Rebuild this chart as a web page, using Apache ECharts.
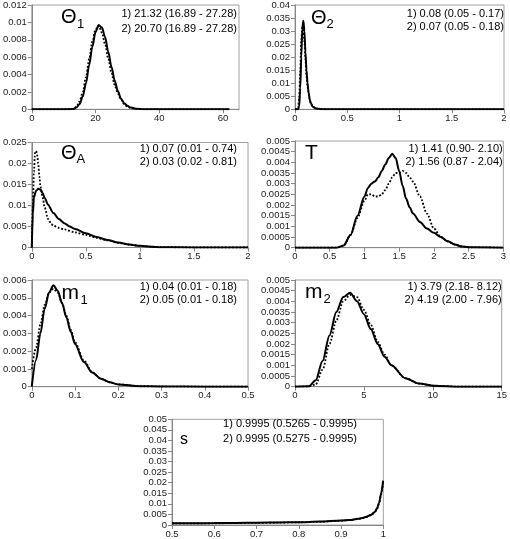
<!DOCTYPE html>
<html><head><meta charset="utf-8">
<script src="https://cdn.jsdelivr.net/npm/echarts@6/dist/echarts.min.js"></script>
<style>html,body{margin:0;padding:0;background:#fff}#c{width:510px;height:539px}</style>
</head><body><div id="c"></div>
<script>
// ---- Data ----
const theta1X  = [0, 10, 13, 14, 15, 16, 17, 18, 19, 20, 21, 22, 23, 24, 25, 26, 27, 28, 29, 30, 31, 33, 35, 40, 50, 62];
const theta1S1 = [0, 0, 0.00003, 0.0002, 0.0006, 0.0015, 0.003, 0.0051, 0.0072, 0.0089, 0.0097, 0.0094, 0.0083, 0.0066, 0.0049, 0.0033, 0.0021, 0.0012, 0.0007, 0.0004, 0.0002, 0.00005, 0, 0, 0, 0];
const theta1S2 = [0, 0, 0.00005, 0.0003, 0.0009, 0.002, 0.0037, 0.0058, 0.0078, 0.0092, 0.0096, 0.0088, 0.0075, 0.0058, 0.0042, 0.0028, 0.0018, 0.0011, 0.0006, 0.0003, 0.00015, 0.00004, 0, 0, 0, 0];

const theta2X  = [0, 0.02, 0.03, 0.04, 0.05, 0.06, 0.07, 0.08, 0.09, 0.10, 0.11, 0.12, 0.13, 0.14, 0.15, 0.17, 0.2, 0.25, 0.3, 0.5, 1, 2];
const theta2S1 = [0, 0, 0, 0.001, 0.008, 0.02, 0.031, 0.034, 0.03, 0.022, 0.015, 0.01, 0.0065, 0.004, 0.0025, 0.001, 0.0003, 0.00005, 0, 0, 0, 0];
const theta2S2 = [0, 0, 0.0005, 0.004, 0.014, 0.026, 0.032, 0.031, 0.026, 0.019, 0.013, 0.009, 0.006, 0.0038, 0.0024, 0.001, 0.0003, 0.00005, 0, 0, 0, 0];

const thetaAX1 = [0, 0.01, 0.02, 0.04, 0.06, 0.08, 0.1, 0.12, 0.15, 0.2, 0.25, 0.3, 0.35, 0.4, 0.5, 0.6, 0.7, 0.8, 0.9, 1.0, 1.1, 1.2, 1.5, 2];
const thetaAS1 = [0, 0.008, 0.012, 0.0135, 0.014, 0.0138, 0.013, 0.0118, 0.0102, 0.0082, 0.0068, 0.0058, 0.005, 0.0044, 0.0034, 0.0025, 0.0018, 0.0012, 0.0007, 0.0004, 0.0002, 0.00008, 0, 0];
const thetaAX2 = [0, 0.01, 0.02, 0.03, 0.04, 0.05, 0.06, 0.07, 0.08, 0.1, 0.12, 0.15, 0.18, 0.2, 0.25, 0.3, 0.4, 0.5, 0.6, 0.7, 0.8, 0.9, 1.0, 1.1, 1.2, 1.5, 2];
const thetaAS2 = [0, 0.01, 0.018, 0.0225, 0.023, 0.022, 0.02, 0.017, 0.0145, 0.012, 0.0095, 0.0068, 0.0056, 0.0052, 0.0047, 0.0043, 0.0036, 0.003, 0.0023, 0.0017, 0.0011, 0.0007, 0.0004, 0.0002, 0.0001, 0, 0];

const tX  = [0, 0.6, 0.7, 0.8, 0.9, 1.0, 1.05, 1.1, 1.15, 1.2, 1.25, 1.3, 1.35, 1.4, 1.45, 1.5, 1.55, 1.6, 1.65, 1.7, 1.8, 1.9, 2.0, 2.1, 2.2, 2.3, 2.4, 2.5, 3];
const tS1 = [0, 0, 0.0001, 0.0006, 0.0015, 0.0024, 0.0028, 0.003, 0.0031, 0.0033, 0.0036, 0.0039, 0.0042, 0.0044, 0.0042, 0.0036, 0.0029, 0.0023, 0.0019, 0.0016, 0.0012, 0.0009, 0.0007, 0.0005, 0.0003, 0.00015, 0.00006, 0.00002, 0];
const tS2 = [0, 0, 0.0001, 0.0006, 0.0014, 0.0022, 0.0025, 0.0025, 0.0024, 0.0024, 0.0025, 0.0027, 0.003, 0.0033, 0.0035, 0.0035, 0.0036, 0.0035, 0.0033, 0.0031, 0.0024, 0.0016, 0.0009, 0.0005, 0.0003, 0.00015, 0.00006, 0.00002, 0];

const m1X  = [0, 0.01, 0.02, 0.03, 0.04, 0.05, 0.06, 0.07, 0.08, 0.09, 0.1, 0.12, 0.14, 0.16, 0.18, 0.2, 0.25, 0.3, 0.4, 0.5];
const m1S1 = [0, 0.0015, 0.003, 0.0044, 0.0053, 0.0057, 0.0054, 0.0047, 0.0039, 0.0031, 0.0024, 0.0014, 0.0008, 0.00045, 0.00025, 0.00013, 0.00003, 0.00001, 0, 0];
const m1S2 = [0.001, 0.0022, 0.0035, 0.0046, 0.0053, 0.0055, 0.0053, 0.0047, 0.004, 0.0032, 0.0025, 0.0015, 0.0008, 0.00045, 0.00025, 0.00013, 0.00003, 0.00001, 0, 0];

const m2X  = [0, 1, 1.5, 2, 2.5, 3, 3.5, 4, 4.5, 5, 5.5, 6, 6.5, 7, 8, 9, 10, 12, 15];
const m2S1 = [0, 0.00002, 0.0003, 0.0012, 0.0024, 0.0035, 0.0042, 0.0044, 0.004, 0.0034, 0.0027, 0.002, 0.0014, 0.001, 0.0004, 0.00015, 0.00005, 0, 0];
const m2S2 = [0, 0.00001, 0.0001, 0.0008, 0.002, 0.0031, 0.004, 0.0043, 0.0042, 0.0036, 0.0029, 0.0021, 0.0015, 0.001, 0.0004, 0.00015, 0.00005, 0, 0];

const sX  = [0.5, 0.55, 0.6, 0.65, 0.7, 0.75, 0.8, 0.85, 0.9, 0.92, 0.94, 0.95, 0.96, 0.97, 0.98, 0.985, 0.99, 0.995, 0.9995];
const sS1 = [0.0008, 0.0008, 0.0009, 0.001, 0.0011, 0.0012, 0.0013, 0.0016, 0.0021, 0.0024, 0.0029, 0.0033, 0.0039, 0.0047, 0.0062, 0.0078, 0.0105, 0.015, 0.021];
const sS2 = [0.0007, 0.0008, 0.0008, 0.0009, 0.001, 0.0011, 0.0013, 0.0015, 0.002, 0.0023, 0.0028, 0.0032, 0.0038, 0.0046, 0.006, 0.0076, 0.0102, 0.0145, 0.02];

const xTicks = [[0, 65, 20], [0, 2, 0.5], [0, 2, 0.5], [0, 3, 0.5], [0, 0.5, 0.1], [0, 15, 5], [0.5, 1, 0.1]];
const yTicks = [[0, 0.012, 0.002], [0, 0.04, 0.005], [0, 0.025, 0.005], [0, 0.005, 0.0005], [0, 0.006, 0.001], [0, 0.005, 0.0005], [0, 0.05, 0.005]];

const labels = [
  ['1) 21.32 (16.89 - 27.28)', '2) 20.70 (16.89 - 27.28)'],
  ['1) 0.08 (0.05 - 0.17)', '2) 0.07 (0.05 - 0.18)'],
  ['1) 0.07 (0.01 - 0.74)', '2) 0.03 (0.02 - 0.81)'],
  ['1) 1.41 (0.90- 2.10)', '2) 1.56 (0.87 - 2.04)'],
  ['1) 0.04 (0.01 - 0.18)', '2) 0.05 (0.01 - 0.18)'],
  ['1) 3.79 (2.18- 8.12)', '2) 4.19 (2.00 - 7.96)'],
  ['1) 0.9995 (0.5265 - 0.9995)', '2) 0.9995 (0.5275 - 0.9995)']
];

// ---- Layout ----
const grids = [
  {left: 30, top: 5, width: 209, height: 104.3},
  {left: 295, top: 4, width: 209, height: 105.3},
  {left: 29.3, top: 142.5, width: 218.7, height: 105},
  {left: 295, top: 141, width: 208.3, height: 106.7},
  {left: 29.3, top: 280, width: 218.7, height: 106.7},
  {left: 295, top: 280, width: 208, height: 106.7},
  {left: 172, top: 419.3, width: 211.3, height: 106.7}
];
const FONT = '"Liberation Sans", Arial, sans-serif';

const zip = (xs, ys) => xs.map((x, i) => [x, ys[i]]);
const seriesData = [
  [zip(theta1X, theta1S1), zip(theta1X, theta1S2)],
  [zip(theta2X, theta2S1), zip(theta2X, theta2S2)],
  [zip(thetaAX1, thetaAS1), zip(thetaAX2, thetaAS2)],
  [zip(tX, tS1), zip(tX, tS2)],
  [zip(m1X, m1S1), zip(m1X, m1S2)],
  [zip(m2X, m2S1), zip(m2X, m2S2)],
  [zip(sX, sS1), zip(sX, sS2)]
];

const axisCommon = {
  axisLine: {show: true, onZero: false, lineStyle: {color: '#868686', width: 1}},
  axisTick: {show: true, inside: false, length: 4, lineStyle: {color: '#868686'}},
  splitLine: {show: false}
};

const xAxis = xTicks.map((t, i) => Object.assign({}, axisCommon, {
  type: 'value', gridIndex: i, min: t[0], max: t[1], interval: t[2],
  axisLabel: {fontSize: 9.5, color: '#222', fontFamily: FONT, margin: 4, showMaxLabel: i === 0 ? false : true}
}));
const yAxis = yTicks.map((t, i) => Object.assign({}, axisCommon, {
  type: 'value', gridIndex: i, min: t[0], max: t[1], interval: t[2],
  axisLabel: {fontSize: 9.5, color: '#222', fontFamily: FONT, margin: 5}
}));

const series = [];
seriesData.forEach((pair, i) => {
  pair.forEach((d, j) => {
    series.push({
      type: 'line', xAxisIndex: i, yAxisIndex: i, data: d,
      showSymbol: false, symbol: 'none', smooth: 0.3, smoothMonotone: 'x',
      lineStyle: {color: '#000', width: j === 0 ? 2 : 1.8, type: j === 0 ? 'solid' : 'dotted'},
      silent: true, animation: false, clip: true
    });
  });
});

const annPos = [
  [237, 14, 29.3], [504, 14, 26.7], [237, 149, 162.3], [502.7, 149, 162.3],
  [237, 287.3, 299.5], [501.7, 287.3, 300], [357, 424.3, 439.3]
];
const graphic = [];
annPos.forEach((p, i) => {
  [0, 1].forEach(k => {
    graphic.push({type: 'text', x: p[0], y: p[1 + k], silent: true,
      style: {text: labels[i][k], font: '11px ' + FONT, fill: '#000', align: 'right', verticalAlign: 'middle'}});
  });
});
const big = (txt, x, y, fs) => ({type: 'text', x, y, silent: true,
  style: {text: txt, font: fs + 'px ' + FONT, fill: '#000', align: 'left', verticalAlign: 'middle'}});
graphic.push(
  big('Θ', 61, 17, 20), big('1', 77, 24.7, 13),
  big('Θ', 311, 18.8, 20), big('2', 326.5, 24.3, 13),
  big('Θ', 61, 153, 20), big('A', 76.5, 159.7, 13),
  big('T', 305, 153.3, 21),
  big('m', 61.5, 293.2, 21), big('1', 80.5, 300.8, 13),
  big('m', 305, 292.3, 21), big('2', 323.5, 299, 13),
  big('s', 180, 439.4, 16)
);

const chart = echarts.init(document.getElementById('c'), null, {renderer: 'canvas'});
chart.setOption({
  animation: false,
  backgroundColor: '#fff',
  grid: grids.map(g => Object.assign({show: true, borderColor: '#a0a0a0', borderWidth: 1, containLabel: false}, g)),
  xAxis, yAxis, series, graphic
});
</script>
</body></html>
